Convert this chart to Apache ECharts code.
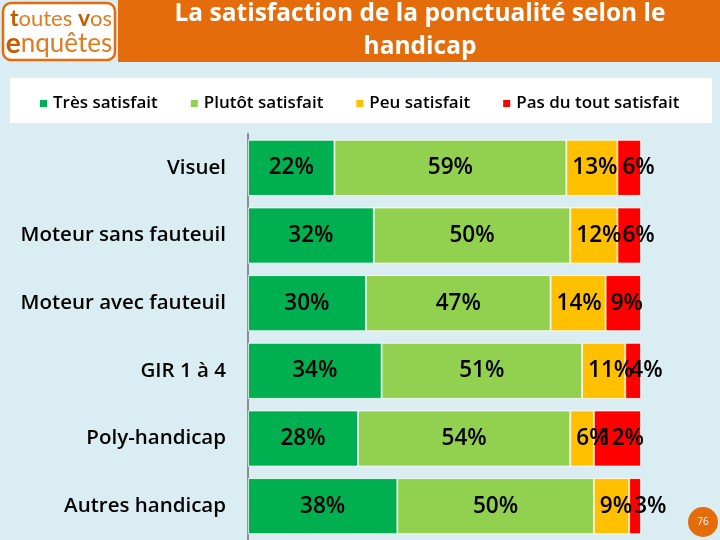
<!DOCTYPE html>
<html>
<head>
<meta charset="utf-8">
<script src="https://cdn.jsdelivr.net/npm/echarts@6/dist/echarts.min.js"></script>
<style>
html,body{margin:0;padding:0;background:#daedf2;}
#c{width:720px;height:540px;}
</style>
</head>
<body>
<div id="c"></div>
<script>
const categories = ['Visuel', 'Moteur sans fauteuil', 'Moteur avec fauteuil', 'GIR 1 à 4', 'Poly-handicap', 'Autres handicap'];
const seriesNames = ['Très satisfait', 'Plutôt satisfait', 'Peu satisfait', 'Pas du tout satisfait'];
const tresSatisfait = [22, 32, 30, 34, 28, 38];
const plutotSatisfait = [59, 50, 47, 51, 54, 50];
const peuSatisfait = [13, 12, 14, 11, 6, 9];
const pasDuToutSatisfait = [6, 6, 9, 4, 12, 3];
const titleLines = ['La satisfaction de la ponctualité selon le', 'handicap'];
const pageNumber = '76';

const colors = ['#00b050', '#92d050', '#ffc000', '#ff0000'];
const values = [tresSatisfait, plutotSatisfait, peuSatisfait, pasDuToutSatisfait];
const labelPos = [
  {position: 'inside'},
  {position: 'inside'},
  {position: 'insideLeft', distance: 6},
  {position: 'insideLeft', distance: 5}
];
const FONT = '"Open Sans", Lato, sans-serif';
const LOGOFONT = 'Lato, "Open Sans", sans-serif';

const chart = echarts.init(document.getElementById('c'));
chart.setOption({
  backgroundColor: '#daedf2',
  animation: false,
  color: colors,
  graphic: [
    {type: 'rect', shape: {x: 118, y: 0, width: 602, height: 62}, style: {fill: '#e46c0a'}, z: 0},
    {type: 'rect', shape: {x: 3, y: 3, width: 112, height: 57, r: 8}, style: {fill: '#fff', stroke: '#e46c0a', lineWidth: 2.5}, z: 1},
    {type: 'text', x: 61, y: 19, style: {text: '{b|t}outes {b|v}os', rich: {b: {fontWeight: 'bold', fontSize: 23, fill: '#c85a00', fontFamily: LOGOFONT}}, fontSize: 22, fontFamily: LOGOFONT, fill: '#e07b20', align: 'center', verticalAlign: 'middle'}, z: 2},
    {type: 'text', x: 59, y: 44, style: {text: '{b|e}nquêtes', rich: {b: {fontWeight: 'bold', fontSize: 28, fill: '#c85a00', fontFamily: LOGOFONT}}, fontSize: 26, fontFamily: LOGOFONT, fill: '#e07b20', align: 'center', verticalAlign: 'middle'}, z: 2},
    {type: 'text', x: 420, y: 14, style: {text: titleLines[0], fontSize: 24.5, fontWeight: 'bold', fontFamily: FONT, fill: '#fff', align: 'center', verticalAlign: 'middle'}, z: 2},
    {type: 'text', x: 420, y: 47, style: {text: titleLines[1], fontSize: 24.5, fontWeight: 'bold', fontFamily: FONT, fill: '#fff', align: 'center', verticalAlign: 'middle'}, z: 2},
    {type: 'rect', shape: {x: 10, y: 78, width: 702, height: 45}, style: {fill: '#fff'}, z: 0},
    {type: 'circle', shape: {cx: 703, cy: 522, r: 15}, style: {fill: '#e46c0a'}, z: 2},
    {type: 'text', x: 703, y: 522, style: {text: pageNumber, fontSize: 10, fontFamily: FONT, fill: '#fff', align: 'center', verticalAlign: 'middle'}, z: 3}
  ],
  legend: {
    data: seriesNames,
    left: 33,
    top: 90,
    itemWidth: 9,
    itemHeight: 9,
    itemGap: 31,
    icon: 'rect',
    textStyle: {fontSize: 17, fontWeight: 600, fontFamily: FONT, color: '#000'}
  },
  grid: {left: 248, right: 79, top: 134, bottom: 0},
  xAxis: {type: 'value', min: 0, max: 100, show: false},
  yAxis: {
    type: 'category',
    data: categories,
    inverse: true,
    axisLine: {show: true, lineStyle: {color: '#8c8c8c', width: 2}},
    axisTick: {show: false},
    axisLabel: {fontSize: 20.5, fontWeight: 600, fontFamily: FONT, color: '#000', margin: 22}
  },
  series: seriesNames.map((name, i) => ({
    name: name,
    type: 'bar',
    stack: 'total',
    barWidth: 56,
    data: values[i],
    itemStyle: {color: colors[i], borderColor: '#ffffff', borderWidth: 0.8},
    label: Object.assign({
      show: true,
      formatter: '{c}%',
      fontSize: 22.5,
      fontWeight: 600,
      fontFamily: FONT,
      color: '#000'
    }, labelPos[i])
  }))
});
</script>
</body>
</html>
